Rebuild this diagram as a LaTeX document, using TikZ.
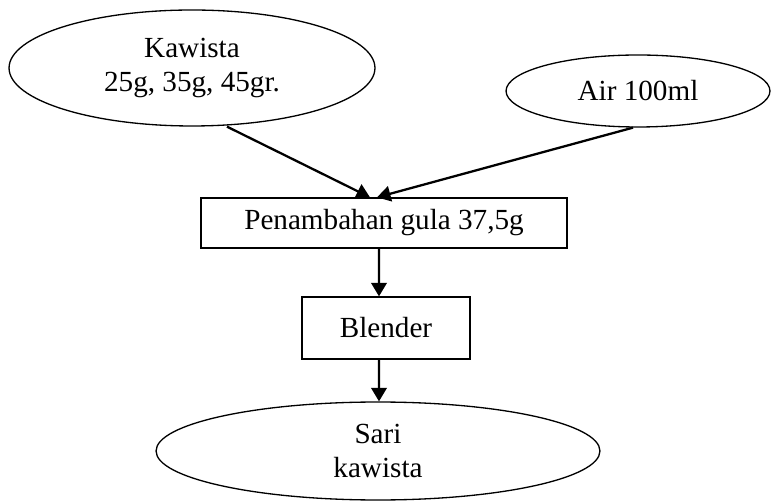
\documentclass[tikz,border=0pt]{standalone}
\usepackage{fontspec}
\setmainfont{Liberation Serif}
\usetikzlibrary{shapes.geometric,arrows.meta}

\tikzset{
  bahan/.style={draw, ellipse, line width=0.75pt, inner sep=0pt, align=center},
  proses/.style={draw, rectangle, line width=0.75pt, inner sep=0pt, align=center},
  panah/.style={line width=1.3pt, -{Triangle[length=0.27cm, width=0.31cm]}}
}

\begin{document}
\begin{tikzpicture}[x=0.02cm, y=-0.02cm, font=\fontsize{16.6}{19.5}\selectfont]
\useasboundingbox (0,0) rectangle (773,502);

%Bahan
\node[bahan, minimum width=7.32cm, minimum height=2.32cm] (kawista) at (192,68) {Kawista\\25g, 35g, 45gr.};
\node[bahan, minimum width=5.28cm, minimum height=1.44cm] (air) at (638,91) {Air 100ml};

%Proses
\node[proses, minimum width=7.32cm, minimum height=1.0cm] (gula) at (384,223) {Penambahan gula 37,5g};
\node[proses, minimum width=3.36cm, minimum height=1.24cm] (blender) at (386,328) {Blender};

%Hasil
\node[bahan, minimum width=8.88cm, minimum height=1.96cm] (sari) at (378,451) {Sari\\kawista};

%Panah
\draw[panah] ([xshift=0.7cm]kawista.south) -- ([xshift=-0.28cm]gula.north);
\draw[panah] ([xshift=-0.1cm]air.south) -- ([xshift=-0.14cm]gula.north);
\draw[panah] ([xshift=-0.1cm]gula.south) -- ([xshift=-0.14cm]blender.north);
\draw[panah] ([xshift=-0.14cm]blender.south) -- ([xshift=0.02cm]sari.north);

\end{tikzpicture}
\end{document}
